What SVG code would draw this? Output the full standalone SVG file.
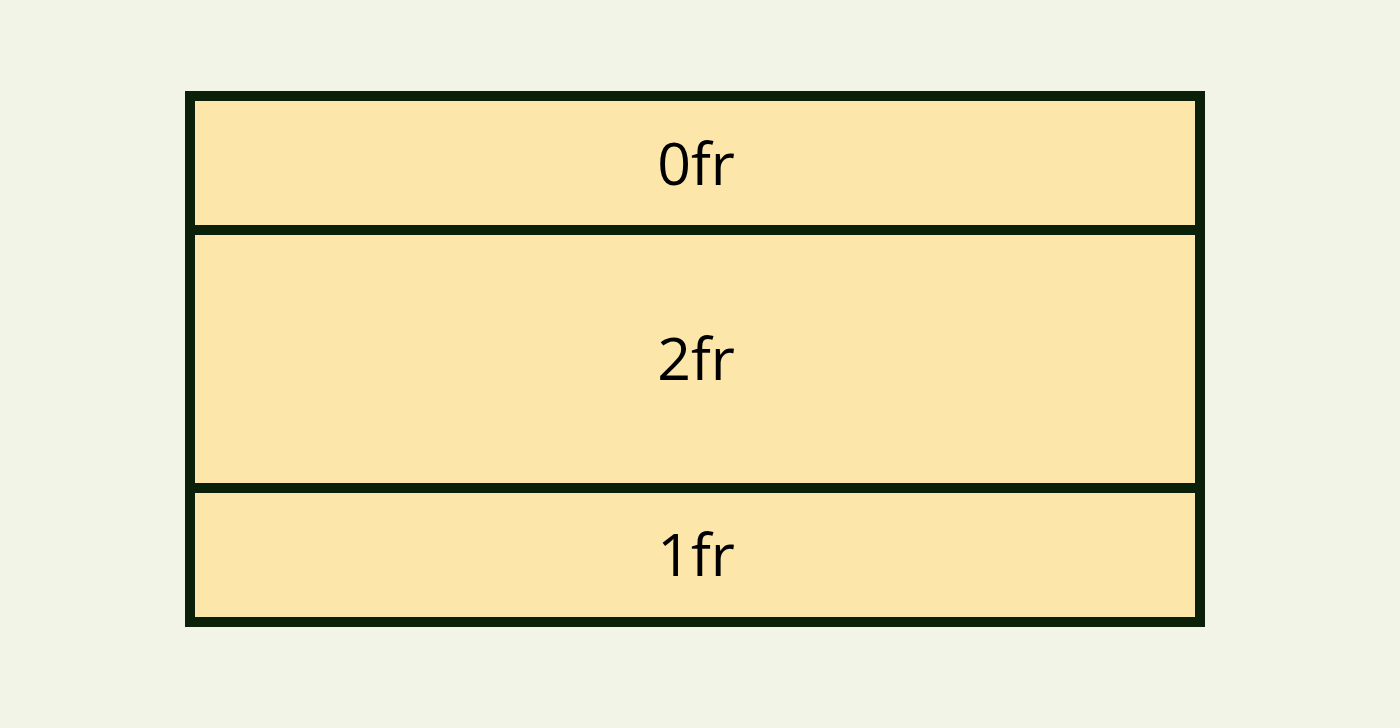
<svg xmlns="http://www.w3.org/2000/svg" width="1400" height="728" viewBox="0 0 1400 728">
<style>
.cell{fill:#fce6aa;stroke:#0b2008;stroke-width:10}
.lbl{font-family:"Open Sans","Liberation Sans",Arial,sans-serif;font-size:59px;fill:#000;text-anchor:middle}
</style>
<rect width="1400" height="728" fill="#f1f4e6"/>
<g id="row0">
<rect class="cell" x="190" y="96" width="1010" height="134"/>
<text class="lbl" x="696" y="185">0fr</text>
</g>
<g id="row2">
<rect class="cell" x="190" y="230" width="1010" height="258"/>
<text class="lbl" x="696" y="380">2fr</text>
</g>
<g id="row1">
<rect class="cell" x="190" y="488" width="1010" height="134"/>
<text class="lbl" x="696" y="576">1fr</text>
</g>
</svg>
